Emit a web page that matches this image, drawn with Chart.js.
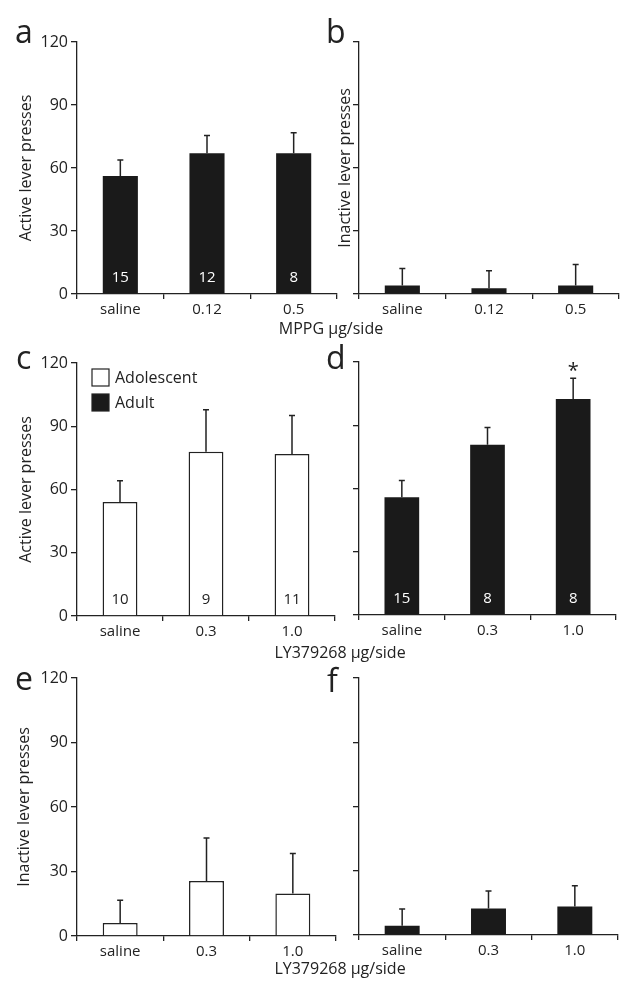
<html>
<head>
<meta charset="utf-8">
<script src="https://cdn.jsdelivr.net/npm/chart.js"></script>
<style>
  body { margin: 0; background: #fff; width: 642px; height: 1001px; position: relative; overflow: hidden; font-family: 'Open Sans', sans-serif; color: #222; }
  canvas { position: absolute; }
  .xtitle { position: absolute; font-size: 16px; white-space: nowrap; transform: translate(-50%, -50%); }
</style>
</head>
<body>
<canvas id="pa" width="345" height="320" style="left:0;top:0"></canvas>
<canvas id="pb" width="320" height="320" style="left:322px;top:0"></canvas>
<canvas id="pc" width="345" height="320" style="left:0;top:330px"></canvas>
<canvas id="pd" width="320" height="320" style="left:322px;top:330px"></canvas>
<canvas id="pe" width="345" height="346" style="left:0;top:655px"></canvas>
<canvas id="pf" width="320" height="346" style="left:322px;top:655px"></canvas>
<div class="xtitle" style="left:331px;top:328px">MPPG μg/side</div>
<div class="xtitle" style="left:340px;top:652px">LY379268 μg/side</div>
<div class="xtitle" style="left:340px;top:968px">LY379268 μg/side</div>

<script>
// dose categories and axis ticks
const mppgDoses = ['saline', '0.12', '0.5'];
const lyDoses = ['saline', '0.3', '1.0'];
const yTickValues = [0, 30, 60, 90, 120];

// a / b : MPPG, adults
const mppgActive = [56.2, 67, 67];
const mppgActiveErr = [7.6, 8.5, 9.8];
const mppgActiveN = [15, 12, 8];
const mppgInactive = [4.1, 2.7, 4.1];
const mppgInactiveErr = [8, 8.4, 9.9];

// c / d : LY379268 active lever
const adolActive = [54.1, 77.9, 76.8];
const adolActiveErr = [10.1, 19.9, 18.3];
const adolN = [10, 9, 11];
const adultActive = [55.9, 80.7, 102.5];
const adultActiveErr = [7.9, 8.2, 9.8];
const adultN = [15, 8, 8];
const adultSig = [false, false, true];

// e / f : LY379268 inactive lever
const adolInactive = [6.1, 25.6, 19.8];
const adolInactiveErr = [10.5, 20, 18.6];
const adultInactive = [4.3, 12.4, 13.3];
const adultInactiveErr = [7.8, 8.1, 9.7];

const legendLabels = ['Adolescent', 'Adult'];

const INK = '#222';
const BLACK = '#1a1a1a';
const FONT = "'Open Sans', sans-serif";

const extras = {
  id: 'extras',
  afterDatasetsDraw(chart, args, o) {
    const ctx = chart.ctx;
    const y = chart.scales.y;
    const bars = chart.getDatasetMeta(0).data;
    ctx.save();
    bars.forEach((bar, i) => {
      const top = y.getPixelForValue(o.values[i] + o.errors[i]);
      ctx.strokeStyle = INK;
      ctx.lineWidth = 1.5;
      ctx.beginPath();
      ctx.moveTo(bar.x, bar.y);
      ctx.lineTo(bar.x, top);
      ctx.moveTo(bar.x - 3, top);
      ctx.lineTo(bar.x + 3, top);
      ctx.stroke();
      if (o.n) {
        ctx.fillStyle = o.filled ? '#fff' : INK;
        ctx.font = '15px ' + FONT;
        ctx.textAlign = 'center';
        ctx.textBaseline = 'middle';
        ctx.fillText(String(o.n[i]), bar.x, y.getPixelForValue(0) - 16);
      }
      if (o.sig && o.sig[i]) {
        ctx.fillStyle = INK;
        ctx.font = '20px ' + FONT;
        ctx.textAlign = 'center';
        ctx.textBaseline = 'alphabetic';
        ctx.fillText('*', bar.x, top - 1);
      }
    });
    // panel letter
    ctx.fillStyle = INK;
    ctx.font = '32px ' + FONT;
    ctx.textAlign = 'left';
    ctx.textBaseline = 'alphabetic';
    ctx.fillText(o.letter, o.letterX, o.letterY);
    // legend
    if (o.legend) {
      const a = chart.chartArea;
      ctx.font = '16px ' + FONT;
      ctx.textBaseline = 'middle';
      legendLabels.forEach((lab, k) => {
        const bx = a.left + 15, by = a.top + 6 + k * 25;
        ctx.fillStyle = k === 0 ? '#fff' : BLACK;
        ctx.fillRect(bx, by, 17, 17);
        ctx.strokeStyle = INK;
        ctx.lineWidth = 1.2;
        ctx.strokeRect(bx, by, 17, 17);
        ctx.fillStyle = INK;
        ctx.fillText(lab, bx + 23, by + 9);
      });
    }
    ctx.restore();
  }
};

function makePanel(id, p) {
  new Chart(document.getElementById(id), {
    type: 'bar',
    data: {
      labels: p.labels,
      datasets: [{
        data: p.values,
        backgroundColor: p.filled ? BLACK : '#fff',
        borderColor: INK,
        borderWidth: p.filled ? 0 : 1.5,
        categoryPercentage: 1,
        barPercentage: 0.405
      }]
    },
    options: {
      responsive: false,
      animation: false,
      layout: { padding: p.pad },
      scales: {
        x: {
          afterFit: s => { s.height = 26; },
          grid: { drawOnChartArea: false, drawTicks: true, tickLength: 5, color: INK, lineWidth: 1.3 },
          border: { display: true, color: INK, width: 1.3 },
          ticks: { color: INK, font: { family: FONT, size: 15 }, padding: 2 }
        },
        y: {
          min: 0, max: 120,
          afterBuildTicks: s => { s.ticks = yTickValues.map(v => ({ value: v })); },
          afterFit: s => { s.width = p.yWidth; },
          grid: { drawOnChartArea: false, drawTicks: true, tickLength: 6, color: INK, lineWidth: 1.3 },
          border: { display: true, color: INK, width: 1.3 },
          ticks: { display: p.showTicks, color: INK, font: { family: FONT, size: 16 }, padding: 3 },
          title: {
            display: !!p.yTitle, text: p.yTitle, color: INK,
            font: { family: FONT, size: 16 }, padding: { top: p.titlePad, bottom: 0 }
          }
        }
      },
      plugins: {
        legend: { display: false },
        tooltip: { enabled: false },
        extras: {
          values: p.values, errors: p.errors, n: p.n, sig: p.sig, filled: p.filled,
          letter: p.letter, letterX: p.letterX, letterY: p.letterY, legend: p.legend
        }
      }
    },
    plugins: [extras]
  });
}

makePanel('pa', {
  labels: mppgDoses, values: mppgActive, errors: mppgActiveErr, n: mppgActiveN, filled: true,
  yTitle: 'Active lever presses', showTicks: true, yWidth: 77, titlePad: 17,
  pad: { left: 0, right: 8, top: 42, bottom: 0 }, letter: 'a', letterX: 15, letterY: 43
});
makePanel('pb', {
  labels: mppgDoses, values: mppgInactive, errors: mppgInactiveErr, filled: true,
  yTitle: 'Inactive lever presses', showTicks: false, yWidth: 37, titlePad: 14,
  pad: { left: 0, right: 23, top: 42, bottom: 0 }, letter: 'b', letterX: 4, letterY: 43
});
makePanel('pc', {
  labels: lyDoses, values: adolActive, errors: adolActiveErr, n: adolN, filled: false,
  yTitle: 'Active lever presses', showTicks: true, yWidth: 77, titlePad: 17,
  pad: { left: 0, right: 10, top: 33, bottom: 8 }, letter: 'c', letterX: 16, letterY: 39, legend: true
});
makePanel('pd', {
  labels: lyDoses, values: adultActive, errors: adultActiveErr, n: adultN, sig: adultSig, filled: true,
  yTitle: '', showTicks: false, yWidth: 37, titlePad: 0,
  pad: { left: 0, right: 26, top: 32, bottom: 9 }, letter: 'd', letterX: 4, letterY: 39
});
makePanel('pe', {
  labels: lyDoses, values: adolInactive, errors: adolInactiveErr, filled: false,
  yTitle: 'Inactive lever presses', showTicks: true, yWidth: 77, titlePad: 15,
  pad: { left: 0, right: 9, top: 23, bottom: 39 }, letter: 'e', letterX: 15, letterY: 35
});
makePanel('pf', {
  labels: lyDoses, values: adultInactive, errors: adultInactiveErr, filled: true,
  yTitle: '', showTicks: false, yWidth: 37, titlePad: 0,
  pad: { left: 0, right: 24, top: 23, bottom: 40 }, letter: 'f', letterX: 5, letterY: 37
});
</script>
</body>
</html>
